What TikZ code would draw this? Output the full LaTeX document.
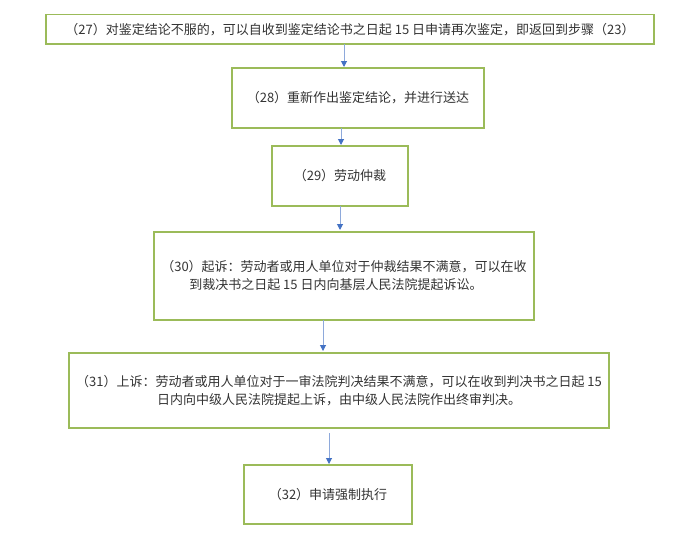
\documentclass[tikz,border=0pt]{standalone}
\usepackage{fontspec}
\setmainfont{Noto Sans CJK SC}
\usepackage{xcolor}
\usetikzlibrary{positioning,arrows.meta}

\definecolor{boxgreen}{HTML}{9BBB59}
\definecolor{lineblue}{HTML}{8EA9DB}
\definecolor{tipblue}{HTML}{4472C4}
\definecolor{textgray}{HTML}{333333}

\begin{document}
\begin{tikzpicture}[
    x=1pt,
    y=-1pt,
    every node/.style={
        font=\fontsize{13}{18}\selectfont,
        text=textgray
    },
    box/.style={
        draw=boxgreen,
        line width=1.5pt,
        inner sep=0pt,
        outer sep=0pt,
        align=center
    },
    arr/.style={
        draw=lineblue,
        line width=1pt,
        -{Triangle[width=6pt,length=6pt,color=tipblue]}
    }
]
\useasboundingbox (0,0) rectangle (700,536);

% Define steps
\node[box,minimum width=608pt,minimum height=29.5pt] (s27) at (350,29.25) {（27）对鉴定结论不服的，可以自收到鉴定结论书之日起 15 日申请再次鉴定，即返回到步骤（23）};
\node[box,minimum width=252pt,minimum height=60pt,below=24pt of s27,xshift=8pt] (s28) {（28）重新作出鉴定结论，并进行送达};
\node[box,minimum width=136pt,minimum height=60pt,below=18pt of s28,xshift=-18pt] (s29) {（29）劳动仲裁};
\node[box,minimum width=380pt,minimum height=88pt,below=26pt of s29,xshift=4pt,align=left] (s30) {
    （30）起诉：劳动者或用人单位对于仲裁结果不满意，可以在收\\
    \hspace*{28pt}到裁决书之日起 15 日内向基层人民法院提起诉讼。
};
\node[box,minimum width=540pt,minimum height=75pt,below=33pt of s30,xshift=-5pt] (s31) {
    （31）上诉：劳动者或用人单位对于一审法院判决结果不满意，可以在收到判决书之日起 15\\
    日内向中级人民法院提起上诉，由中级人民法院作出终审判决。
};
\node[box,minimum width=168pt,minimum height=59pt,below=37pt of s31,xshift=-11pt] (s32) {（32）申请强制执行};

% Define transitions
\draw[arr] ([xshift=-6pt]s27.south) -- ([xshift=-14pt,yshift=1pt]s28.north);
\draw[arr] ([xshift=-17pt]s28.south) -- ([xshift=1pt,yshift=1pt]s29.north);
\draw[arr] ([xshift=0pt]s29.south) -- ([xshift=-4pt,yshift=2pt]s30.north);
\draw[arr] ([xshift=-21pt]s30.south) -- ([xshift=-16pt,yshift=2pt]s31.north);
\draw[arr,shorten <=5pt] ([xshift=-10pt]s31.south) -- ([xshift=1pt,yshift=1pt]s32.north);

\end{tikzpicture}
\end{document}
